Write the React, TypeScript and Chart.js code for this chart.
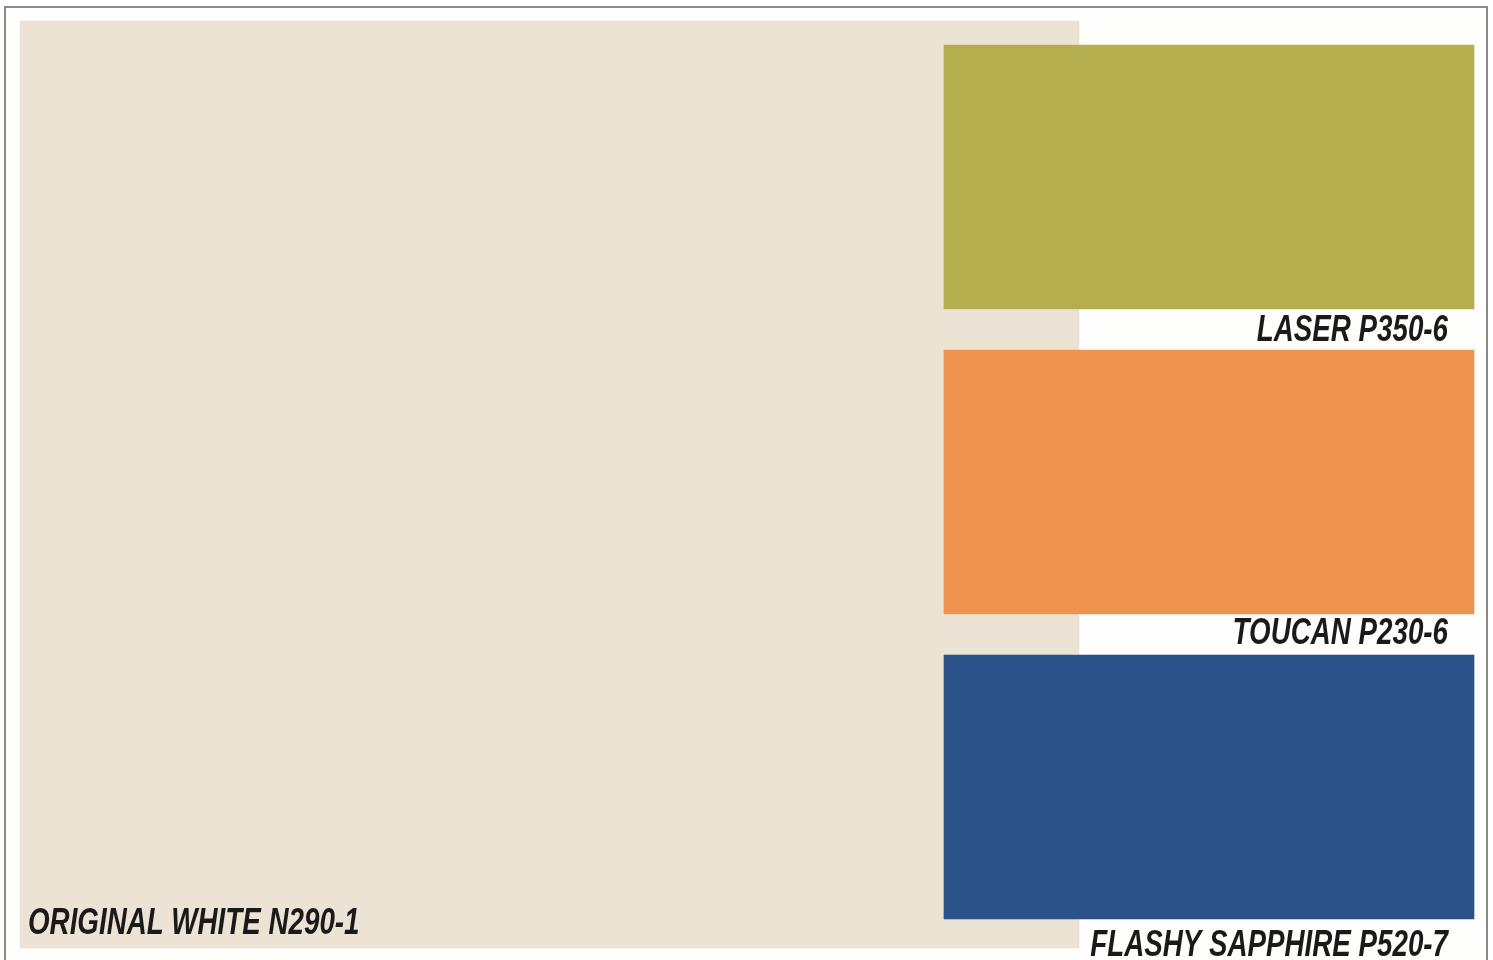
import React, { useEffect, useRef } from "react";
import { Chart, registerables } from "chart.js";

Chart.register(...registerables);

// ---- data ----
const baseName = "ORIGINAL WHITE";
const baseCode = "N290-1";
const baseColor = "#ede3d4";

const swatchNames = ["LASER", "TOUCAN", "FLASHY SAPPHIRE"];
const swatchCodes = ["P350-6", "P230-6", "P520-7"];
const swatchColors = ["#b4ae4f", "#ef944f", "#2b5289"];

// ---- layout (pixels of the 1493x960 board) ----
const W = 1493;
const H = 960;
const baseBox = { left: 20, right: 1079, top: 21, bottom: 948 };
const swatchLeft = 944;
const swatchRight = 1474;
const swatchTop = 45;
const swatchPitch = 305;
const swatchHeight = 264;
const labelDrop = [32, 30, 37];
const CONDENSE = 0.75;

const FONT = "italic bold 37px 'Liberation Sans', Arial, sans-serif";

function drawCondensed(ctx: CanvasRenderingContext2D, text: string, x: number, y: number, align: "left" | "right") {
  ctx.save();
  ctx.translate(x, y);
  ctx.scale(CONDENSE, 1);
  ctx.textAlign = align;
  ctx.fillText(text, 0, 0);
  ctx.restore();
}

const labelPlugin = {
  id: "swatchLabels",
  afterDatasetsDraw(chart: any) {
    const ctx = chart.ctx;
    ctx.save();
    ctx.font = FONT;
    ctx.fillStyle = "#1a1a1a";
    ctx.textBaseline = "alphabetic";
    const baseMeta = chart.getDatasetMeta(0);
    const b = baseMeta.data[0];
    if (b) {
      const p = b.getProps(["x", "y", "base", "height"], true);
      drawCondensed(ctx, `${baseName} ${baseCode}`, Math.min(p.x, p.base) + 8, p.y + p.height / 2 - 14, "left");
    }
    const meta = chart.getDatasetMeta(1);
    meta.data.forEach((el: any, i: number) => {
      const p = el.getProps(["x", "y", "base", "height"], true);
      drawCondensed(ctx, `${swatchNames[i]} ${swatchCodes[i]}`, Math.max(p.x, p.base) - 26, p.y + p.height / 2 + labelDrop[i], "right");
    });
    ctx.restore();
  },
};

export default function App() {
  const ref = useRef<HTMLCanvasElement>(null);
  useEffect(() => {
    if (!ref.current) return;
    const chart = new Chart(ref.current, {
      type: "bar",
      data: {
        datasets: [
          {
            label: `${baseName} ${baseCode}`,
            data: [{ x: [baseBox.left, baseBox.right], y: (baseBox.top + baseBox.bottom) / 2 }] as any,
            backgroundColor: baseColor,
            barThickness: baseBox.bottom - baseBox.top,
            borderWidth: 0,
            order: 2,
          },
          {
            label: "accents",
            data: swatchNames.map((_, i) => ({
              x: [swatchLeft, swatchRight],
              y: swatchTop + i * swatchPitch + swatchHeight / 2,
            })) as any,
            backgroundColor: swatchColors,
            barThickness: swatchHeight,
            borderWidth: 0,
            order: 1,
          },
        ],
      },
      options: {
        indexAxis: "y",
        responsive: false,
        animation: false,
        grouped: false,
        layout: { padding: 0 },
        scales: {
          x: { type: "linear", min: 0, max: W, display: false, offset: false },
          y: { type: "linear", min: 0, max: H, reverse: true, display: false, offset: false },
        },
        plugins: {
          legend: { display: false },
          tooltip: { enabled: false },
          title: { display: false },
        },
      } as any,
      plugins: [labelPlugin],
    });
    return () => chart.destroy();
  }, []);

  return (
    <div style={{ position: "absolute", left: 0, top: 0, width: W, height: H, overflow: "hidden", background: "#ffffff" }}>
      <div
        style={{
          position: "absolute",
          left: 4,
          top: 6,
          width: 1480,
          height: 1000,
          border: "2px solid #8a8a8a",
          background: "#fefefc",
        }}
      />
      <canvas ref={ref} width={W} height={H} style={{ position: "absolute", left: 0, top: 0, width: W, height: H }} />
    </div>
  );
}
